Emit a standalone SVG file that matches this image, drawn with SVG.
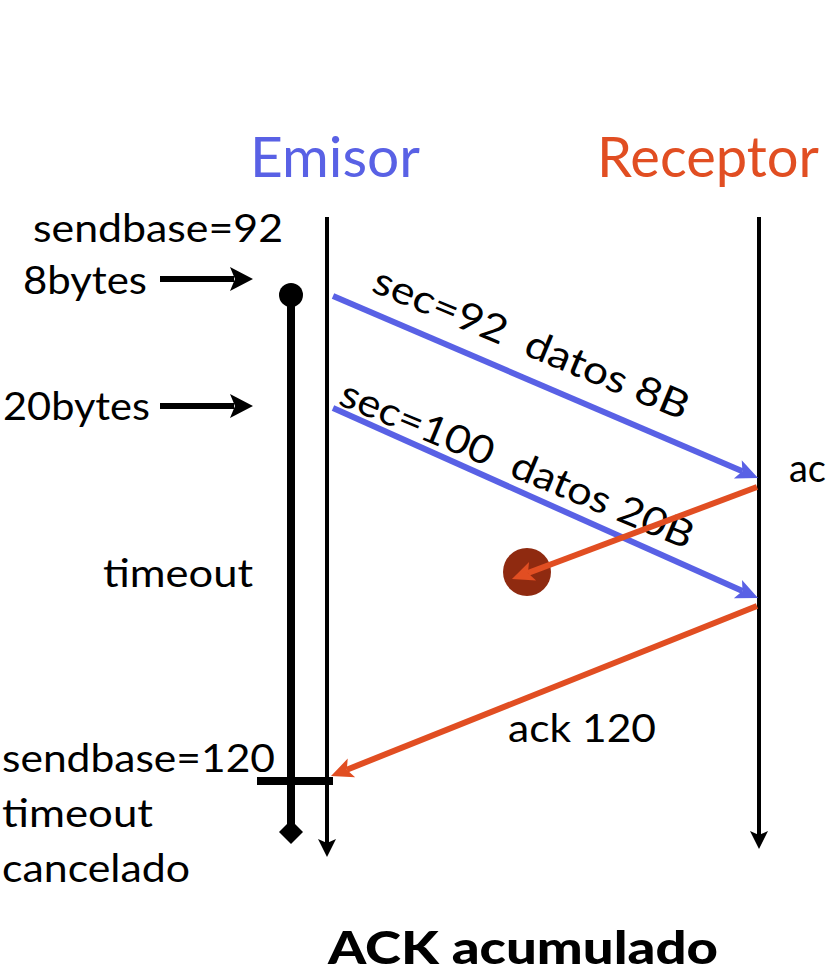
<svg xmlns="http://www.w3.org/2000/svg" width="827" height="973" viewBox="0 0 827 973">
<style>
.t{font-family:Lato,"Open Sans","DejaVu Sans",sans-serif;font-size:39px;fill:#000}
.h{font-family:Lato,"Open Sans","DejaVu Sans",sans-serif;font-size:56px}
.b{font-family:Lato,"Open Sans","DejaVu Sans",sans-serif;font-size:45px;font-weight:900;fill:#000}
.life{stroke:#000;stroke-width:4;fill:none}
.blue{stroke:#5961E5;stroke-width:6;fill:none}
.orange{stroke:#E14E22;stroke-width:6;fill:none}
</style>
<defs>
<marker id="mb" markerUnits="userSpaceOnUse" viewBox="0 -12 26 24" refX="5" refY="0" markerWidth="26" markerHeight="24" orient="auto" overflow="visible">
<path d="M0,-10 L22,0 L0,10 L5,0 Z" fill="#5961E5"/>
</marker>
<marker id="mo" markerUnits="userSpaceOnUse" viewBox="0 -12 26 24" refX="5" refY="0" markerWidth="26" markerHeight="24" orient="auto" overflow="visible">
<path d="M0,-10 L22,0 L0,10 L5,0 Z" fill="#E14E22"/>
</marker>
<marker id="mk" markerUnits="userSpaceOnUse" viewBox="0 -12 26 24" refX="4" refY="0" markerWidth="26" markerHeight="24" orient="auto" overflow="visible">
<path d="M0,-9 L18,0 L0,9 L4,0 Z" fill="#000"/>
</marker>
<marker id="mk2" markerUnits="userSpaceOnUse" viewBox="0 -14 30 28" refX="4" refY="0" markerWidth="30" markerHeight="28" orient="auto" overflow="visible">
<path d="M0,-12 L23,0 L0,12 L5,0 Z" fill="#000"/>
</marker>
</defs>

<g id="emisor">
<text class="h" x="250" y="177" fill="#5961E5" textLength="170" lengthAdjust="spacingAndGlyphs">Emisor</text>
</g>
<g id="receptor">
<text class="h" x="597" y="177" fill="#E14E22" textLength="222" lengthAdjust="spacingAndGlyphs">Receptor</text>
</g>

<g id="timer">
<line x1="291" y1="295" x2="291" y2="826" stroke="#000" stroke-width="8"/>
<circle cx="291" cy="295" r="12" fill="#000"/>
<path d="M291,820 L303,832 L291,844 L279,832 Z" fill="#000"/>
<line x1="257" y1="781" x2="333" y2="781" stroke="#000" stroke-width="8"/>
</g>

<g id="lost">
<circle cx="527" cy="572" r="24" fill="#8F2A10"/>
</g>

<g id="labels">
<text class="t" x="33" y="242" textLength="250" lengthAdjust="spacingAndGlyphs">sendbase=92</text>
<text class="t" x="23" y="294" textLength="124" lengthAdjust="spacingAndGlyphs">8bytes</text>
<text class="t" x="3" y="420" textLength="147" lengthAdjust="spacingAndGlyphs">20bytes</text>
<text class="t" x="103" y="587" textLength="150" lengthAdjust="spacingAndGlyphs">timeout</text>
<text class="t" x="2" y="772" textLength="273" lengthAdjust="spacingAndGlyphs">sendbase=120</text>
<text class="t" x="2" y="827" textLength="151" lengthAdjust="spacingAndGlyphs">timeout</text>
<text class="t" x="2" y="882" textLength="188" lengthAdjust="spacingAndGlyphs">cancelado</text>
<text class="t" x="508" y="742" textLength="148" lengthAdjust="spacingAndGlyphs">ack 120</text>
<text class="t" x="789" y="482" textLength="37" lengthAdjust="spacingAndGlyphs">ac</text>
<text class="t" transform="translate(370,291) rotate(22.5)" textLength="338" lengthAdjust="spacingAndGlyphs" xml:space="preserve">sec=92  datos 8B</text>
<text class="t" transform="translate(337,404) rotate(22.6)" textLength="379" lengthAdjust="spacingAndGlyphs" xml:space="preserve">sec=100  datos 20B</text>
<text class="b" x="328" y="964" textLength="390" lengthAdjust="spacingAndGlyphs">ACK acumulado</text>
</g>

<g id="connectors">
<line class="life" x1="327" y1="217" x2="327" y2="843" marker-end="url(#mk)"/>
<line class="life" x1="759" y1="217" x2="759" y2="835" marker-end="url(#mk)"/>
<line x1="160" y1="279" x2="234" y2="279" stroke="#000" stroke-width="6" marker-end="url(#mk2)"/>
<line x1="160" y1="406" x2="234" y2="406" stroke="#000" stroke-width="6" marker-end="url(#mk2)"/>
<line class="blue" x1="333" y1="296" x2="742.4" y2="471.3" marker-end="url(#mb)"/>
<line class="blue" x1="333" y1="408" x2="742.5" y2="591.1" marker-end="url(#mb)"/>
<line class="orange" x1="757" y1="487" x2="527.9" y2="573" marker-end="url(#mo)"/>
<line class="orange" x1="757" y1="606" x2="346.8" y2="769.7" marker-end="url(#mo)"/>
</g>
</svg>
